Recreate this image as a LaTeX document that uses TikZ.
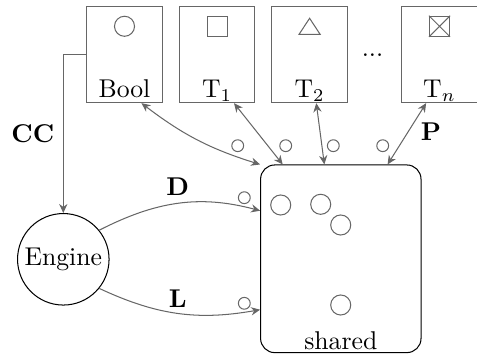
\documentclass[tikz,border=0pt]{standalone}
\usepackage{tikz}
\usetikzlibrary{arrows.meta, positioning, calc}

\begin{document}
\begin{tikzpicture}[
  x=0.389pt, y=-0.389pt,
  slot/.style={draw=black!60, minimum width=29.4pt, minimum height=37.3pt, inner sep=0pt},
  lbl/.style={anchor=base, inner sep=0pt},
  sym/.style={draw=black!60, inner sep=0pt, minimum size=7.8pt},
  tok/.style={draw=black!60},
  arr/.style={-{Stealth[length=3.5pt, width=3.2pt]}, black!60},
  barr/.style={{Stealth[length=3.5pt, width=3.2pt]}-{Stealth[length=3.5pt, width=3.2pt]}, black!60}
]
  \useasboundingbox (0,0) rectangle (477,354);

  % type slots
  \node[slot] (bool) at (124.5,54.7) {};
  \node[slot, right=6.2pt of bool] (t1) {};
  \node[slot, right=6.2pt of t1] (t2) {};
  \node[slot] (tn) at (439.5,54.7) {};
  \node[lbl] (dots) at (372.5,57) {...};

  \node[lbl] (boollbl) at ([yshift=2.3pt]bool.south) {Bool};
  \node[lbl] (t1lbl) at ([yshift=2.3pt]t1.south) {T$_1$};
  \node[lbl] (t2lbl) at ([yshift=2.3pt]t2.south) {T$_2$};
  \node[lbl] (tnlbl) at ([yshift=2.3pt]tn.south) {T$_n$};

  \node[sym, circle] (boolsym) at ([yshift=-7.8pt]bool.north) {};
  \node[sym] (t1sym) at ([yshift=-7.8pt]t1.north) {};
  \coordinate (t2sym) at ([yshift=-7.8pt]t2.north);
  \draw[black!60] ($(t2sym)+(-10.5,8)$) -- ++(21,0) -- ($(t2sym)+(0,-8)$) -- cycle;
  \node[sym] (tnsym) at ([yshift=-7.8pt]tn.north) {};
  \draw[black!60] (tnsym.north west) -- (tnsym.south east)
                  (tnsym.north east) -- (tnsym.south west);

  % shared store and engine
  \node[draw, rounded corners=5.5pt, minimum width=62.4pt, minimum height=73pt,
        inner sep=0pt] (shared) at (340.8,258.8) {};
  \node[lbl] (sharedlbl) at ([yshift=1.5pt]shared.south) {shared};
  \node[draw, circle, minimum size=35.6pt, inner sep=0pt] (engine) at (63.3,259.3) {Engine};

  \foreach \x/\y in {237.7/145.7, 285.7/145.7, 333.3/145.7, 382.7/145.7,
                     244.3/197.7, 244.3/303.3}
    \draw[tok] (\x,\y) circle (2.3pt);
  \foreach \x/\y in {280.7/205, 320.7/204.3, 340.7/225, 340.7/305}
    \draw[tok] (\x,\y) circle (3.9pt);

  % connectors
  \draw[arr] (bool.west) -| node[pos=0.75, left, text=black] (cc) {\textbf{CC}} (engine.north);

  \draw[barr] ([xshift=6.6pt]bool.south) to[bend right=10] (shared.north west);
  \draw[barr] ([xshift=6.6pt]t1.south) -- ([xshift=8.8pt]shared.north west);
  \draw[barr] ([xshift=2.6pt]t2.south) -- ([xshift=25pt]shared.north west);
  \draw[barr] ([xshift=-5.2pt]tn.south) -- ([xshift=49.6pt]shared.north west);
  \node (p) at (431,132) {\textbf{P}};

  \draw[arr] (engine.39) to[out=27, in=165] ([yshift=18.7pt]shared.west);
  \draw[arr] (engine.-39) to[out=-25, in=190] ([yshift=-19.8pt]shared.west);
  \node (d) at (177.7,186.7) {\textbf{D}};
  \node (l) at (177.7,298.3) {\textbf{L}};
\end{tikzpicture}
\end{document}
